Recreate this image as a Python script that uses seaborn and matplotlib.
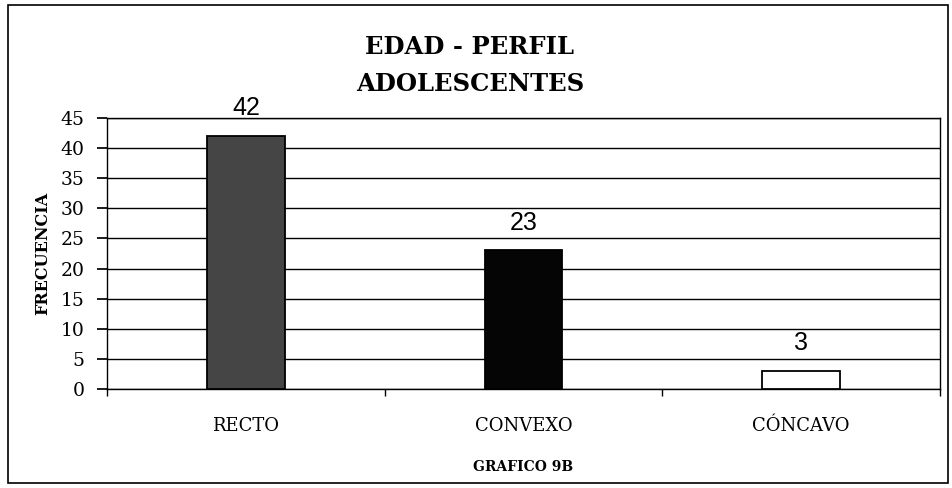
import matplotlib
matplotlib.use("Agg")
import matplotlib.pyplot as plt
import seaborn as sns
import pandas as pd
from matplotlib.patches import Rectangle

categories = ["RECTO", "CONVEXO", "CÓNCAVO"]
values = [42, 23, 3]
yticks = [0, 5, 10, 15, 20, 25, 30, 35, 40, 45]
bar_colors = ["#454545", "#050505", "#ffffff"]

df = pd.DataFrame({"cat": categories, "val": values})

sns.set_theme(style="white")
plt.rcParams["font.family"] = ["DejaVu Serif"]
plt.rcParams["text.color"] = "black"
plt.rcParams["axes.labelcolor"] = "black"
plt.rcParams["xtick.color"] = "black"
plt.rcParams["ytick.color"] = "black"

fig = plt.figure(figsize=(9.53, 4.88), dpi=100)
ax = fig.add_axes([0.1123, 0.2029, 0.8741, 0.5553])

sns.barplot(data=df, x="cat", y="val", hue="cat", palette=bar_colors,
            legend=False, width=0.28, edgecolor="black", linewidth=1.3,
            saturation=1, ax=ax, zorder=3)

ax.set_ylim(0, 45)
ax.set_xlim(-0.5, 2.5)
ax.set_yticks(yticks)
ax.set_yticklabels([str(v) for v in yticks], fontsize=13.5, family="DejaVu Serif")
ax.yaxis.grid(True, color="black", linewidth=1.0)
ax.set_axisbelow(True)

ax.set_xticks([0, 1, 2])
ax.set_xticklabels(categories, fontsize=13, family="DejaVu Serif")
ax.tick_params(axis="x", length=0, pad=20)
ax.set_xticks([-0.5, 0.5, 1.5, 2.5], minor=True)
ax.tick_params(axis="x", which="minor", length=5, color="black", direction="out", bottom=True)
ax.tick_params(axis="y", length=7, color="black", direction="out", left=True, pad=9)

for s in ax.spines.values():
    s.set_color("black")
    s.set_linewidth(1.0)

for i, v in enumerate(values):
    ax.text(i, v + 4.6, str(v), ha="center", va="center", fontsize=18,
            family="Liberation Sans", color="black")

ax.set_ylabel("FRECUENCIA", fontsize=11.5, fontweight="bold", family="DejaVu Serif", labelpad=7)
ax.set_xlabel("GRAFICO 9B", fontsize=10, fontweight="bold", family="DejaVu Serif", labelpad=18)

fig.text(0.493, 1 - 47 / 488, "EDAD - PERFIL", ha="center", va="center",
         fontsize=17.5, fontweight="bold", family="DejaVu Serif")
fig.text(0.493, 1 - 84 / 488, "ADOLESCENTES", ha="center", va="center",
         fontsize=17.5, fontweight="bold", family="DejaVu Serif")

fig.patches.append(Rectangle((8 / 953, 5 / 488), 940 / 953, 478 / 488,
                             transform=fig.transFigure, fill=False,
                             edgecolor="black", linewidth=1.2))

fig.savefig("out.png", dpi=100)
